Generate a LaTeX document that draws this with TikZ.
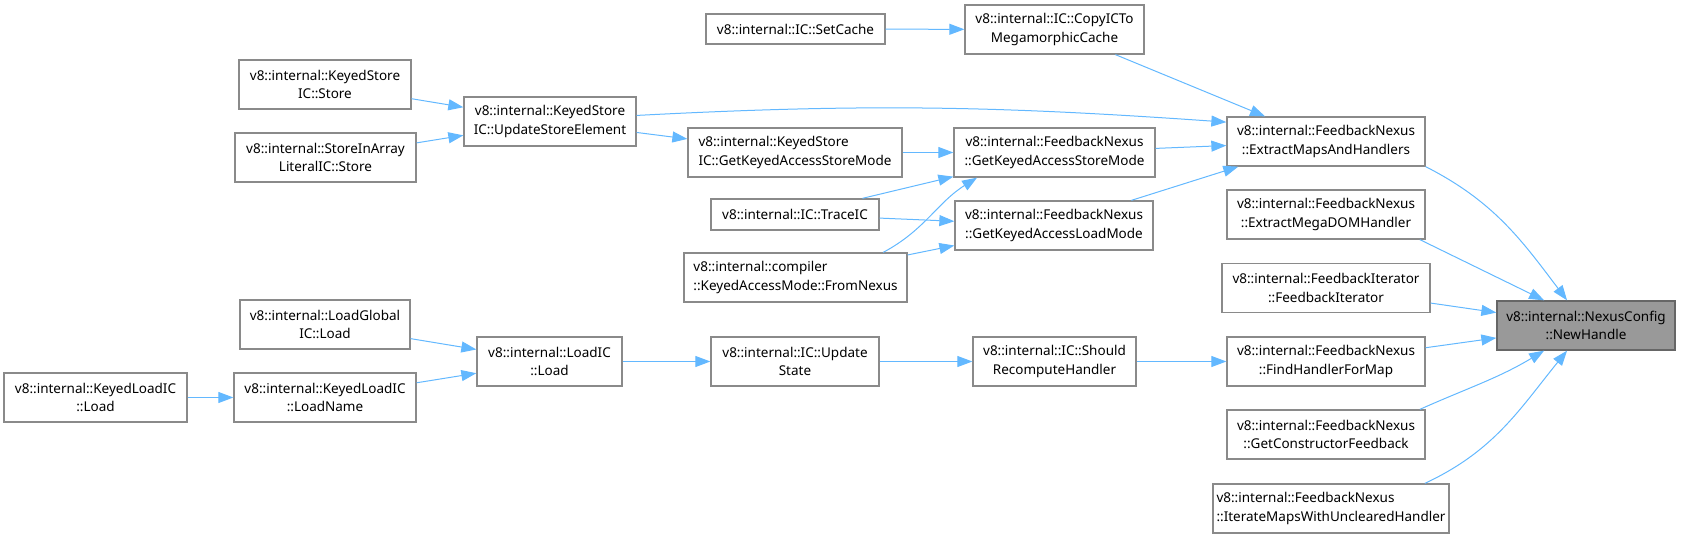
\documentclass[tikz,border=0pt]{standalone}
\usepackage{fontspec}
\setmainfont{Noto Sans}
\usetikzlibrary{arrows.meta}
\definecolor{edgeblue}{HTML}{63B8FF}
\definecolor{boxline}{HTML}{8A8A8A}
\definecolor{rootfill}{HTML}{999999}
\begin{document}
\begin{tikzpicture}[x=1pt,y=1pt,>={Triangle[length=15pt,width=11pt]},
    fn/.style={draw=boxline,line width=1.3pt,fill=white,minimum height=49pt,inner sep=2pt,align=center,
        font=\fontsize{13.5}{18.5}\selectfont},
    fnl/.style={fn,align=left},
    root/.style={fn,fill=rootfill,draw=black!60},
    call/.style={->,draw=edgeblue,line width=1pt}]
    \useasboundingbox (0,0) rectangle (1681,538);
    \node[fn,minimum width=179pt,minimum height=30pt] (setcache) at (795.5,509) {v8::internal::IC::SetCache};
    \node[fn,minimum width=179pt] (copyic) at (1054.5,508.5) {v8::internal::IC::CopyICTo\\MegamorphicCache};
    \node[fn,minimum width=172pt] (ksstore) at (325,453.5) {v8::internal::KeyedStore\\IC::Store};
    \node[fn,minimum width=181pt] (storeinarray) at (325.5,380.5) {v8::internal::StoreInArray\\LiteralIC::Store};
    \node[fn,minimum width=172pt] (updatestore) at (550,416.5) {v8::internal::KeyedStore\\IC::UpdateStoreElement};
    \node[fnl,minimum width=214pt] (ksgetmode) at (795,385.5) {v8::internal::KeyedStore\\IC::GetKeyedAccessStoreMode};
    \node[fn,minimum width=201pt] (fngetstore) at (1054.5,385.5) {v8::internal::FeedbackNexus\\::GetKeyedAccessStoreMode};
    \node[fn,minimum width=168pt,minimum height=31pt] (traceic) at (795,323.5) {v8::internal::IC::TraceIC};
    \node[fn,minimum width=198pt] (fngetload) at (1054,312.5) {v8::internal::FeedbackNexus\\::GetKeyedAccessLoadMode};
    \node[fnl,minimum width=223pt] (fromnexus) at (795.5,260.5) {v8::internal::compiler\\::KeyedAccessMode::FromNexus};
    \node[fn,minimum width=198pt] (extractmaps) at (1326,396.5) {v8::internal::FeedbackNexus\\::ExtractMapsAndHandlers};
    \node[fn,minimum width=198pt] (megadom) at (1326,323.5) {v8::internal::FeedbackNexus\\::ExtractMegaDOMHandler};
    \node[fn,minimum width=208pt] (fbiterator) at (1326,250) {v8::internal::FeedbackIterator\\::FeedbackIterator};
    \node[fn,minimum width=198pt] (findhandler) at (1326,176.5) {v8::internal::FeedbackNexus\\::FindHandlerForMap};
    \node[fn,minimum width=198pt] (ctorfeedback) at (1326,103.5) {v8::internal::FeedbackNexus\\::GetConstructorFeedback};
    \node[fnl,minimum width=236pt] (iteratemaps) at (1331,29.5) {v8::internal::FeedbackNexus\\::IterateMapsWithUnclearedHandler};
    \node[root,minimum width=178pt] (newhandle) at (1586,212.5) {v8::internal::NexusConfig\\::NewHandle};
    \node[fn,minimum width=170pt] (loadglobal) at (325,213.5) {v8::internal::LoadGlobal\\IC::Load};
    \node[fn,minimum width=183pt] (keyedloadload) at (95.5,140.5) {v8::internal::KeyedLoadIC\\::Load};
    \node[fn,minimum width=182pt] (loadname) at (325,140.5) {v8::internal::KeyedLoadIC\\::LoadName};
    \node[fn,minimum width=145pt] (loadic) at (549.5,176.5) {v8::internal::LoadIC\\::Load};
    \node[fn,minimum width=168pt] (updatestate) at (795,176.5) {v8::internal::IC::Update\\State};
    \node[fn,minimum width=163pt] (shouldrecompute) at (1054.5,176.5) {v8::internal::IC::Should\\RecomputeHandler};
    \draw[call] (setcache) -- (copyic);
    \draw[call] (copyic) -- (extractmaps);
    \draw[call] (updatestore.4) to[out=3,in=176] (extractmaps.169);
    \draw[call] (updatestore) -- (ksgetmode);
    \draw[call] (ksstore) -- (updatestore);
    \draw[call] (storeinarray) -- (updatestore);
    \draw[call] (ksgetmode) -- (fngetstore);
    \draw[call] (fngetstore) -- (extractmaps);
    \draw[call] (fngetload.18) -- (extractmaps.196);
    \draw[call] (traceic) -- (fngetstore);
    \draw[call] (traceic) -- (fngetload);
    \draw[call] (fromnexus.16) to[out=28,in=212] (fngetstore.198);
    \draw[call] (fromnexus) -- (fngetload);
    \draw[call] (extractmaps.south east) to[out=-27,in=127] (newhandle.127);
    \draw[call] (megadom.-15) -- (newhandle.149);
    \draw[call] (fbiterator) -- (newhandle);
    \draw[call] (findhandler) -- (newhandle);
    \draw[call] (ctorfeedback.15) to[out=24,in=211] (newhandle.211);
    \draw[call] (iteratemaps.15) to[out=25,in=231] (newhandle.233);
    \draw[call] (shouldrecompute) -- (findhandler);
    \draw[call] (updatestate) -- (shouldrecompute);
    \draw[call] (loadic) -- (updatestate);
    \draw[call] (loadglobal) -- (loadic);
    \draw[call] (loadname) -- (loadic);
    \draw[call] (keyedloadload) -- (loadname);
\end{tikzpicture}
\end{document}
